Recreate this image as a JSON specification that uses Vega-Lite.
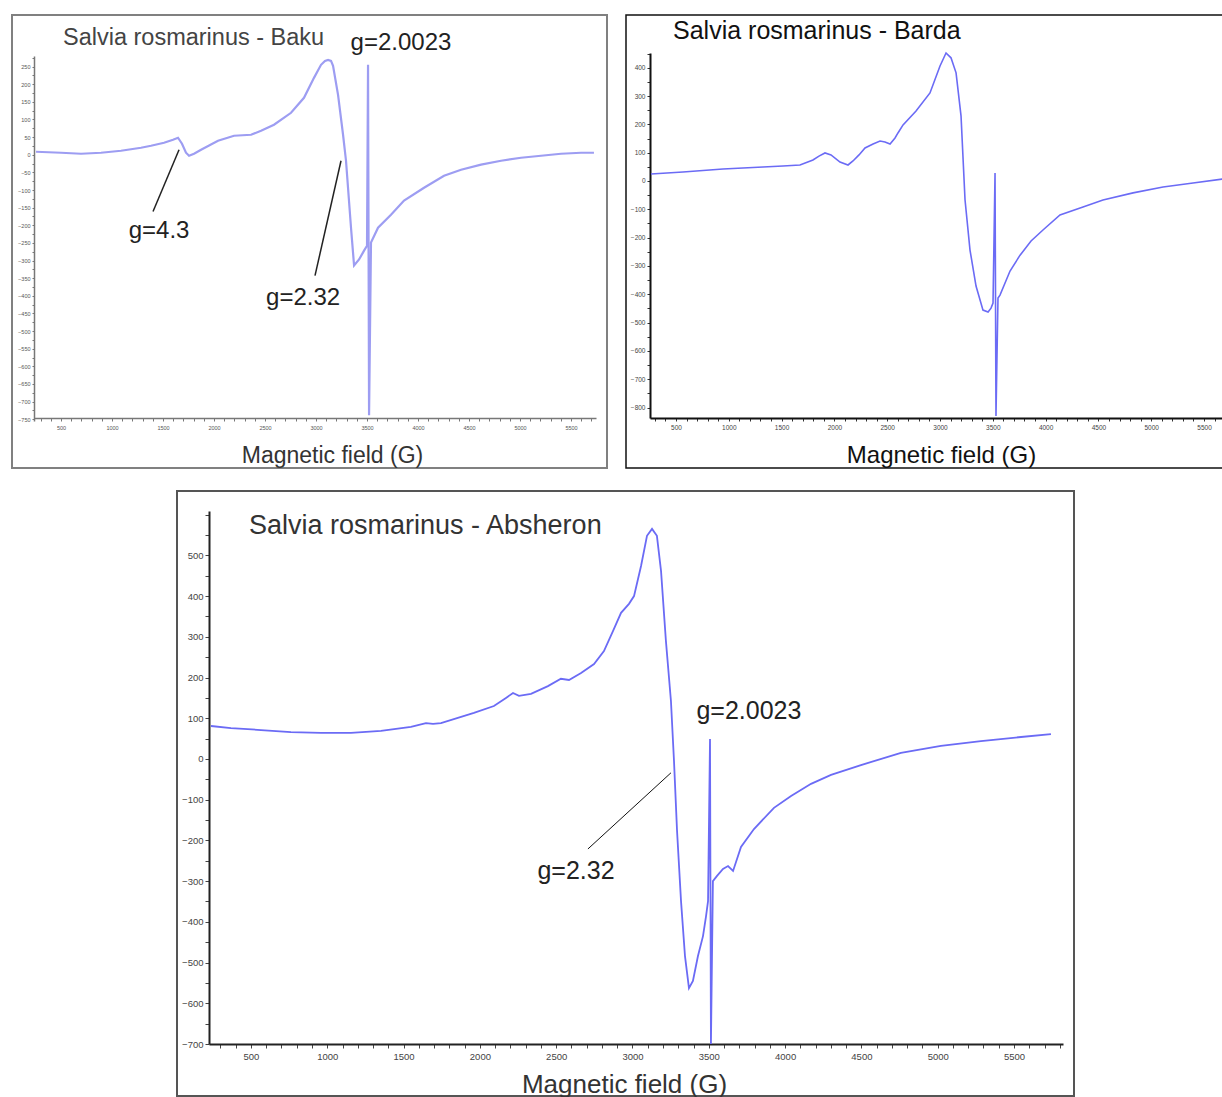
{
  "$schema": "https://vega.github.io/schema/vega-lite/v6.json",
  "padding": {"left": 11, "top": 14, "right": 0, "bottom": 0},
  "background": "white",
  "config": {"font": "Liberation Sans", "axis": {"grid": false, "labelOverlap": false, "labelFlush": false}},
  "datasets": {
    "baku": [
      {"field": 255, "signal": 8.5}, {"field": 500, "signal": 5.7}, {"field": 696, "signal": 2.8}, {"field": 892, "signal": 5.7},
      {"field": 1088, "signal": 11.3}, {"field": 1284, "signal": 19.8}, {"field": 1382, "signal": 25.5}, {"field": 1510, "signal": 34},
      {"field": 1598, "signal": 42.5}, {"field": 1647, "signal": 48.2}, {"field": 1686, "signal": 31.2}, {"field": 1725, "signal": 5.7},
      {"field": 1755, "signal": -2.8}, {"field": 1804, "signal": 2.8}, {"field": 1873, "signal": 14.2}, {"field": 2039, "signal": 39.7},
      {"field": 2196, "signal": 53.8}, {"field": 2363, "signal": 56.7}, {"field": 2461, "signal": 68}, {"field": 2588, "signal": 85},
      {"field": 2755, "signal": 119}, {"field": 2882, "signal": 161.5}, {"field": 2980, "signal": 218}, {"field": 3049, "signal": 255},
      {"field": 3088, "signal": 266}, {"field": 3118, "signal": 269}, {"field": 3147, "signal": 266}, {"field": 3167, "signal": 252},
      {"field": 3216, "signal": 170}, {"field": 3265, "signal": 56.7}, {"field": 3294, "signal": -17}, {"field": 3343, "signal": -207},
      {"field": 3373, "signal": -314}, {"field": 3422, "signal": -297}, {"field": 3471, "signal": -272}, {"field": 3500, "signal": -258},
      {"field": 3510, "signal": 255}, {"field": 3520, "signal": -739}, {"field": 3539, "signal": -249}, {"field": 3608, "signal": -207},
      {"field": 3735, "signal": -170}, {"field": 3863, "signal": -130}, {"field": 4059, "signal": -93.5}, {"field": 4255, "signal": -59.5},
      {"field": 4422, "signal": -42.5}, {"field": 4618, "signal": -28}, {"field": 4814, "signal": -17}, {"field": 5010, "signal": -8.5},
      {"field": 5206, "signal": -2.8}, {"field": 5402, "signal": 2.8}, {"field": 5598, "signal": 5.7}, {"field": 5725, "signal": 5.7}
    ],
    "baku_title": [{"field": 519, "signal": 331, "label": "Salvia rosmarinus - Baku"}],
    "baku_notes": [
      {"field": 3833, "signal": 317, "label": "g=2.0023"},
      {"field": 1461, "signal": -215, "label": "g=4.3"},
      {"field": 2873, "signal": -405, "label": "g=2.32"}
    ],
    "baku_leaders": [
      {"field": 1402, "signal": -161, "field2": 1657, "signal2": 14},
      {"field": 2990, "signal": -343, "field2": 3245, "signal2": -17}
    ],
    "barda": [
      {"field": 263, "signal": 24.7}, {"field": 566, "signal": 31.8}, {"field": 945, "signal": 42.4}, {"field": 1324, "signal": 49.5},
      {"field": 1513, "signal": 53}, {"field": 1674, "signal": 56.5}, {"field": 1797, "signal": 74.2}, {"field": 1854, "signal": 88},
      {"field": 1911, "signal": 99}, {"field": 1968, "signal": 92}, {"field": 2053, "signal": 67}, {"field": 2129, "signal": 56.5},
      {"field": 2176, "signal": 70.7}, {"field": 2233, "signal": 92}, {"field": 2290, "signal": 116.6}, {"field": 2366, "signal": 130.8},
      {"field": 2432, "signal": 141}, {"field": 2479, "signal": 138}, {"field": 2527, "signal": 130.8}, {"field": 2574, "signal": 152},
      {"field": 2602, "signal": 169.6}, {"field": 2650, "signal": 198}, {"field": 2773, "signal": 247}, {"field": 2905, "signal": 311},
      {"field": 3000, "signal": 406}, {"field": 3057, "signal": 452}, {"field": 3104, "signal": 435}, {"field": 3152, "signal": 382},
      {"field": 3199, "signal": 230}, {"field": 3237, "signal": -67}, {"field": 3284, "signal": -244}, {"field": 3341, "signal": -371},
      {"field": 3407, "signal": -456}, {"field": 3455, "signal": -463}, {"field": 3483, "signal": -449}, {"field": 3502, "signal": -431},
      {"field": 3521, "signal": 28}, {"field": 3530, "signal": -830}, {"field": 3549, "signal": -413}, {"field": 3568, "signal": -403},
      {"field": 3663, "signal": -318}, {"field": 3758, "signal": -262}, {"field": 3862, "signal": -212}, {"field": 3975, "signal": -173},
      {"field": 4136, "signal": -120}, {"field": 4354, "signal": -92}, {"field": 4543, "signal": -67}, {"field": 4828, "signal": -42},
      {"field": 5112, "signal": -21}, {"field": 5396, "signal": -7}, {"field": 5680, "signal": 7}
    ],
    "barda_title": [{"field": 472, "signal": 530, "label": "Salvia rosmarinus - Barda"}],
    "absheron": [
      {"field": 238, "signal": 81}, {"field": 369, "signal": 76}, {"field": 566, "signal": 71}, {"field": 762, "signal": 66},
      {"field": 959, "signal": 64}, {"field": 1155, "signal": 64}, {"field": 1352, "signal": 69}, {"field": 1548, "signal": 79},
      {"field": 1647, "signal": 88}, {"field": 1693, "signal": 86}, {"field": 1745, "signal": 88}, {"field": 1961, "signal": 113},
      {"field": 2092, "signal": 130}, {"field": 2171, "signal": 150}, {"field": 2217, "signal": 162}, {"field": 2256, "signal": 155},
      {"field": 2335, "signal": 160}, {"field": 2446, "signal": 179}, {"field": 2531, "signal": 197}, {"field": 2584, "signal": 194},
      {"field": 2663, "signal": 211}, {"field": 2748, "signal": 233}, {"field": 2813, "signal": 265}, {"field": 2872, "signal": 314},
      {"field": 2925, "signal": 359}, {"field": 2977, "signal": 381}, {"field": 3010, "signal": 400}, {"field": 3056, "signal": 474},
      {"field": 3095, "signal": 548}, {"field": 3128, "signal": 565}, {"field": 3160, "signal": 548}, {"field": 3187, "signal": 462},
      {"field": 3219, "signal": 290}, {"field": 3252, "signal": 142.5}, {"field": 3272, "signal": -5}, {"field": 3292, "signal": -177},
      {"field": 3318, "signal": -349}, {"field": 3344, "signal": -484}, {"field": 3370, "signal": -563}, {"field": 3396, "signal": -545},
      {"field": 3429, "signal": -484}, {"field": 3462, "signal": -435}, {"field": 3482, "signal": -386}, {"field": 3495, "signal": -349},
      {"field": 3508, "signal": 49}, {"field": 3514, "signal": -700}, {"field": 3527, "signal": -300}, {"field": 3554, "signal": -287},
      {"field": 3593, "signal": -270}, {"field": 3626, "signal": -263}, {"field": 3659, "signal": -275}, {"field": 3711, "signal": -216},
      {"field": 3796, "signal": -172}, {"field": 3927, "signal": -120}, {"field": 4039, "signal": -91}, {"field": 4170, "signal": -61},
      {"field": 4301, "signal": -39}, {"field": 4497, "signal": -15}, {"field": 4759, "signal": 15}, {"field": 5021, "signal": 32},
      {"field": 5283, "signal": 44}, {"field": 5546, "signal": 54}, {"field": 5742, "signal": 61}
    ],
    "absheron_title": [{"field": 487, "signal": 572, "label": "Salvia rosmarinus - Absheron"}],
    "absheron_notes": [
      {"field": 3763, "signal": 118, "label": "g=2.0023"},
      {"field": 2630, "signal": -275, "label": "g=2.32"}
    ],
    "absheron_leaders": [
      {"field": 2708, "signal": -221, "field2": 3252, "signal2": -34}
    ]
  },
  "spacing": 21,
  "vconcat": [
    {
      "spacing": 17,
      "hconcat": [
        {
          "width": 595, "height": 453,
          "view": {"stroke": "#808080", "strokeWidth": 2},
          "layer": [
            {
              "data": {"name": "baku"},
              "mark": {"type": "line", "color": "#9d9df2", "strokeWidth": 2.2},
              "encoding": {
                "x": {"field": "field", "type": "quantitative",
                  "scale": {"domain": [235, 5745], "range": [22, 584], "nice": false, "zero": false},
                  "axis": {"orient": "bottom", "offset": -50, "tickCount": 100, "values": [300,400,500,600,700,800,900,1000,1100,1200,1300,1400,1500,1600,1700,1800,1900,2000,2100,2200,2300,2400,2500,2600,2700,2800,2900,3000,3100,3200,3300,3400,3500,3600,3700,3800,3900,4000,4100,4200,4300,4400,4500,4600,4700,4800,4900,5000,5100,5200,5300,5400,5500,5600,5700],
                    "labelExpr": "datum.value % 500 === 0 ? datum.label : ''", "format": "d", "labelFontSize": 5.5, "labelColor": "#555", "labelPadding": 4, "labelFlush": false, "labelOverlap": false,
                    "tickSize": 3, "tickColor": "#777", "domainColor": "#777", "domainWidth": 1.5,
                    "title": "Magnetic field (G)", "titleFontSize": 23, "titleFontWeight": "normal", "titleColor": "#333", "titleX": 320, "titleY": 37, "titleBaseline": "middle"}},
                "y": {"field": "signal", "type": "quantitative",
                  "scale": {"domain": [-755, 280], "range": [406, 41], "nice": false, "zero": false},
                  "axis": {"orient": "left", "offset": -22, "tickCount": 100, "values": [-750,-725,-700,-675,-650,-625,-600,-575,-550,-525,-500,-475,-450,-425,-400,-375,-350,-325,-300,-275,-250,-225,-200,-175,-150,-125,-100,-75,-50,-25,0,25,50,75,100,125,150,175,200,225,250,275],
                    "labelExpr": "datum.value % 50 === 0 ? datum.label : ''", "format": "d", "labelFontSize": 5.5, "labelColor": "#555", "labelPadding": 2, "labelFlush": false, "labelOverlap": false,
                    "tickSize": 2, "tickColor": "#777", "domainColor": "#777", "domainWidth": 1.5, "title": null}}
              }
            },
            {
              "data": {"name": "baku_leaders"},
              "mark": {"type": "rule", "color": "#222", "strokeWidth": 1.5},
              "encoding": {
                "x": {"field": "field", "type": "quantitative"},
                "y": {"field": "signal", "type": "quantitative"},
                "x2": {"field": "field2"},
                "y2": {"field": "signal2"}
              }
            },
            {
              "data": {"name": "baku_notes"},
              "mark": {"type": "text", "fontSize": 24, "color": "#222", "baseline": "middle", "align": "center"},
              "encoding": {
                "x": {"field": "field", "type": "quantitative"},
                "y": {"field": "signal", "type": "quantitative"},
                "text": {"field": "label"}
              }
            },
            {
              "data": {"name": "baku_title"},
              "mark": {"type": "text", "fontSize": 23.5, "color": "#444", "baseline": "middle", "align": "left"},
              "encoding": {
                "x": {"field": "field", "type": "quantitative"},
                "y": {"field": "signal", "type": "quantitative"},
                "text": {"field": "label"}
              }
            }
          ]
        },
        {
          "width": 598, "height": 453,
          "view": {"stroke": "#111", "strokeWidth": 1.5},
          "layer": [
            {
              "data": {"name": "barda"},
              "mark": {"type": "line", "color": "#6b6bf5", "strokeWidth": 1.6},
              "encoding": {
                "x": {"field": "field", "type": "quantitative",
                  "scale": {"domain": [254, 5689], "range": [24, 598], "nice": false, "zero": false},
                  "axis": {"orient": "bottom", "offset": -50, "tickCount": 100, "values": [300,400,500,600,700,800,900,1000,1100,1200,1300,1400,1500,1600,1700,1800,1900,2000,2100,2200,2300,2400,2500,2600,2700,2800,2900,3000,3100,3200,3300,3400,3500,3600,3700,3800,3900,4000,4100,4200,4300,4400,4500,4600,4700,4800,4900,5000,5100,5200,5300,5400,5500,5600],
                    "labelExpr": "datum.value % 500 === 0 ? datum.label : ''", "format": "d", "labelFontSize": 6.5, "labelColor": "#444", "labelPadding": 3, "labelFlush": false, "labelOverlap": false,
                    "tickSize": 3, "tickColor": "#333", "domainColor": "#111", "domainWidth": 2,
                    "title": "Magnetic field (G)", "titleFontSize": 24, "titleFontWeight": "normal", "titleColor": "#111", "titleX": 315, "titleY": 37, "titleBaseline": "middle"}},
                "y": {"field": "signal", "type": "quantitative",
                  "scale": {"domain": [-837, 452], "range": [403, 38], "nice": false, "zero": false},
                  "axis": {"orient": "left", "offset": -24, "tickCount": 100, "values": [-800,-750,-700,-650,-600,-550,-500,-450,-400,-350,-300,-250,-200,-150,-100,-50,0,50,100,150,200,250,300,350,400,450],
                    "labelExpr": "datum.value % 100 === 0 ? datum.label : ''", "format": "d", "labelFontSize": 6.5, "labelColor": "#444", "labelPadding": 2, "labelFlush": false, "labelOverlap": false,
                    "tickSize": 3, "tickColor": "#333", "domainColor": "#111", "domainWidth": 2, "title": null}}
              }
            },
            {
              "data": {"name": "barda_title"},
              "mark": {"type": "text", "fontSize": 25, "color": "#111", "baseline": "middle", "align": "left"},
              "encoding": {
                "x": {"field": "field", "type": "quantitative"},
                "y": {"field": "signal", "type": "quantitative"},
                "text": {"field": "label"}
              }
            }
          ]
        }
      ]
    },
    {
      "spacing": 10,
      "hconcat": [
        {
          "width": 154, "height": 605,
          "view": {"stroke": null, "fill": "white"},
          "data": {"values": []},
          "mark": {"type": "point", "opacity": 0},
          "encoding": {}
        },
        {
          "width": 897, "height": 605,
          "view": {"stroke": "#555", "strokeWidth": 2},
          "layer": [
            {
              "data": {"name": "absheron"},
              "mark": {"type": "line", "color": "#6b6bf5", "strokeWidth": 1.8},
              "encoding": {
                "x": {"field": "field", "type": "quantitative",
                  "scale": {"domain": [225, 5821], "range": [32, 886], "nice": false, "zero": false},
                  "axis": {"orient": "bottom", "offset": -52, "tickCount": 100, "values": [300,400,500,600,700,800,900,1000,1100,1200,1300,1400,1500,1600,1700,1800,1900,2000,2100,2200,2300,2400,2500,2600,2700,2800,2900,3000,3100,3200,3300,3400,3500,3600,3700,3800,3900,4000,4100,4200,4300,4400,4500,4600,4700,4800,4900,5000,5100,5200,5300,5400,5500,5600,5700,5800],
                    "labelExpr": "datum.value % 500 === 0 ? datum.label : ''", "format": "d", "labelFontSize": 9.5, "labelColor": "#444", "labelPadding": 3, "labelFlush": false, "labelOverlap": false,
                    "tickSize": 4, "tickColor": "#444", "domainColor": "#222", "domainWidth": 2,
                    "title": "Magnetic field (G)", "titleFontSize": 26, "titleFontWeight": "normal", "titleColor": "#333", "titleX": 447, "titleY": 40, "titleBaseline": "middle"}},
                "y": {"field": "signal", "type": "quantitative",
                  "scale": {"domain": [-700, 609], "range": [553, 20], "nice": false, "zero": false},
                  "axis": {"orient": "left", "offset": -32, "tickCount": 100, "values": [-700,-650,-600,-550,-500,-450,-400,-350,-300,-250,-200,-150,-100,-50,0,50,100,150,200,250,300,350,400,450,500,550,600],
                    "labelExpr": "datum.value % 100 === 0 && datum.value <= 500 ? datum.label : ''", "format": "d", "labelFontSize": 9.5, "labelColor": "#444", "labelPadding": 2, "labelFlush": false, "labelOverlap": false,
                    "tickSize": 4, "tickColor": "#444", "domainColor": "#222", "domainWidth": 2, "title": null}}
              }
            },
            {
              "data": {"name": "absheron_leaders"},
              "mark": {"type": "rule", "color": "#111", "strokeWidth": 1},
              "encoding": {
                "x": {"field": "field", "type": "quantitative"},
                "y": {"field": "signal", "type": "quantitative"},
                "x2": {"field": "field2"},
                "y2": {"field": "signal2"}
              }
            },
            {
              "data": {"name": "absheron_notes"},
              "mark": {"type": "text", "fontSize": 25, "color": "#222", "baseline": "middle", "align": "center"},
              "encoding": {
                "x": {"field": "field", "type": "quantitative"},
                "y": {"field": "signal", "type": "quantitative"},
                "text": {"field": "label"}
              }
            },
            {
              "data": {"name": "absheron_title"},
              "mark": {"type": "text", "fontSize": 27, "color": "#333", "baseline": "middle", "align": "left"},
              "encoding": {
                "x": {"field": "field", "type": "quantitative"},
                "y": {"field": "signal", "type": "quantitative"},
                "text": {"field": "label"}
              }
            }
          ]
        }
      ]
    }
  ]
}
